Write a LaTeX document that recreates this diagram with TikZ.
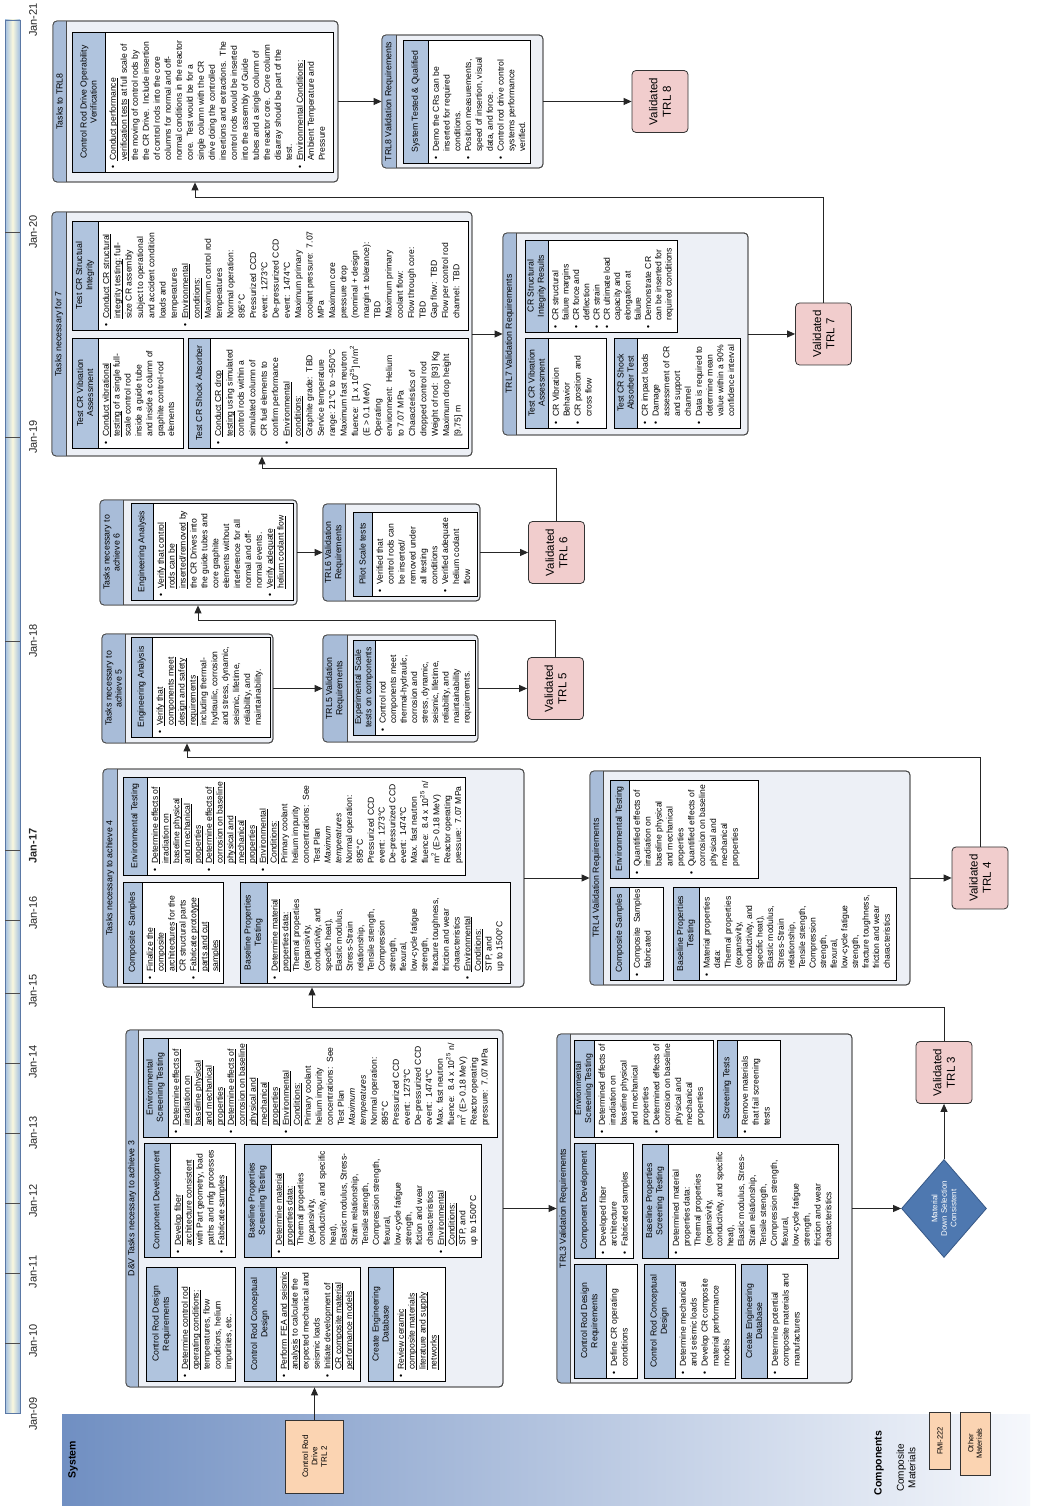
\documentclass[tikz,border=0pt]{standalone}
\usepackage{fontspec}
\setmainfont{Liberation Sans}
\usetikzlibrary{arrows.meta,shapes.geometric}

\definecolor{headblue}{RGB}{176,196,222}
\definecolor{stripblue}{RGB}{168,188,216}
\definecolor{contfill}{RGB}{237,240,246}
\definecolor{contline}{RGB}{72,72,72}
\definecolor{valfill}{RGB}{241,205,205}
\definecolor{diafill}{RGB}{78,120,176}
\definecolor{dialine}{RGB}{55,88,135}
\definecolor{peach}{RGB}{251,212,178}
\definecolor{bandL}{RGB}{112,143,194}
\definecolor{bandR}{RGB}{246,248,252}
\definecolor{tlblue}{RGB}{160,190,225}
\definecolor{tlyellow}{RGB}{250,248,222}
\definecolor{tlline}{RGB}{90,120,165}

% bullet lists: one row per printed line, bullet in the first column
\newcommand\bul{\textbullet}
\newcommand\und[1]{\leavevmode\setbox0\hbox{#1}\rlap{\rule[-1.6pt]{\wd0}{0.45pt}}\box0\relax}
\newcommand\bsk[1]{\fontsize{8.6}{#1}\selectfont}
\newcommand\btab[1]{\begin{tabular}{@{}l@{\hspace{4.5pt}}l@{}}#1\end{tabular}}

\tikzset{
  cbox/.style={draw=contline, fill=contfill, rounded corners=4pt, inner sep=0pt, line width=0.8pt},
  cline/.style={draw=contline, line width=0.8pt},
  stext/.style={font=\fontsize{8.8}{10.2}\selectfont, align=center, inner sep=0pt},
  pbox/.style={draw=black, fill=white, inner sep=0pt, line width=0.7pt},
  phead/.style={draw=black, fill=headblue, inner sep=0pt, align=center, line width=0.7pt, font=\fontsize{8.7}{10.2}\selectfont},
  pbody/.style={anchor=north west, inner sep=0pt, font=\fontsize{8.6}{10.9}\selectfont},
  valbox/.style={draw=black!80, fill=valfill, rounded corners=4pt, inner sep=0pt, align=center,
    line width=0.8pt, minimum width=62, minimum height=56, font=\fontsize{11.5}{13.3}\selectfont},
  peachbox/.style={draw=black!80, fill=peach, inner sep=0pt, align=center, line width=0.7pt,
    font=\fontsize{8}{9.4}\selectfont},
  conn/.style={draw=black!85, line width=0.9pt, -{Triangle[length=8pt,width=7pt]}},
  tlab/.style={font=\fontsize{11}{13}\selectfont, text=black!85, inner sep=0pt},
}

% container: name, left, right, top, bottom, strip bottom, title
\newcommand\mkcont[7]{%
  \node[cbox, minimum width={(#3)-(#2)}, minimum height={(#5)-(#4)}] (#1) at ({((#2)+(#3))/2},{((#4)+(#5))/2}) {};
  \begin{scope}
    \clip[rounded corners=4pt] (#2,#4) rectangle (#3,#5);
    \fill[stripblue] (#2,#4) rectangle (#3,#6);
  \end{scope}
  \draw[cline] (#2,#6) -- (#3,#6);
  \draw[cline, rounded corners=4pt] (#2,#4) rectangle (#3,#5);
  \node[stext] (#1t) at ({((#2)+(#3))/2},{((#4)+(#6))/2}) {#7};
}
% panel: name, left, right, top, bottom, header bottom, header, body
\newcommand\mkpanel[8]{%
  \node[pbox, minimum width={(#3)-(#2)}, minimum height={(#5)-(#4)}] (#1) at ({((#2)+(#3))/2},{((#4)+(#5))/2}) {};
  \node[phead, minimum width={(#3)-(#2)}, minimum height={(#6)-(#4)}] (#1h) at ({((#2)+(#3))/2},{((#4)+(#6))/2}) {#7};
  \node[pbody] (#1b) at ({(#2)+3.5},{(#6)+3}) {#8};
}

\newcommand\envtext{%
 \bul & \und{Determine effects of}\\
 & \und{irradiation on}\\
 & \und{baseline physical}\\
 & \und{and mechanical}\\
 & \und{properties}\\
 \bul & \und{Determine effects of}\\
 & \und{corrosion on baseline}\\
 & \und{physical and}\\
 & \und{mechanical}\\
 & \und{properties}\\
 \bul & \und{Environmental}\\
 & \und{Conditions:}\\
 & Primary coolant\\
 & helium impurity\\
 & concentrations:\ \ See\\
 & Test Plan\\
 & \textit{Maximum}\\
 & \textit{temperatures}\\
 & Normal operation:\\
 & 895°C\\
 & Pressurized CCD\\
 & event:\ \ 1273°C\\
 & De-pressurized CCD\\
 & event:\ \ 1474°C\\
 & Max. fast neutron\\
 & fluence:\ \ 8.4 x 10\textsuperscript{25} n/\\
 & m\textsuperscript{2} (E> 0.18 MeV)\\
 & Reactor operating\\
 & pressure:\ \ 7.07 MPa}

\begin{document}
\begin{tikzpicture}[x=1pt,y=1pt]
\useasboundingbox (0,0) rectangle (1054,1506);
\fill[white] (0,0) rectangle (1054,1506);

% ---------- background band and time axis (page frame, y downwards)
\begin{scope}[yshift=1506pt, y=-1pt]
  \shade[left color=bandL, right color=bandR] (62,1415) rectangle (1030,1506);
  \shade[left color=tlblue, right color=tlblue, middle color=tlyellow] (5,20) rectangle (20,1413);
  \draw[tlline, line width=0.8pt] (5,20) rectangle (20,1413);
  \foreach \t in {1343,1273,1203,1133,1063,993,920,850,641,437,232}
    \draw[black!70, line width=0.8pt] (5,\t) -- (20,\t);
\end{scope}

% ---------- everything else is laid out sideways and turned upright
\begin{scope}[rotate=90, y=-1pt, transform shape]

% time axis labels
\foreach \n/\p in {09/92,10/165,11/234,12/305,13/373,14/444,15/515,16/593,18/865,19/1069,20/1274,21/1486}
  \node[tlab] (jan\n) at (\p,33) {Jan-\n};
\node[tlab, font=\bfseries\fontsize{11}{13}\selectfont] (jan17) at (660,33) {Jan-17};

% legend band
\node[font=\bfseries\fontsize{10.5}{12}\selectfont, inner sep=0pt] (sys) at (46,73) {System};
\node[peachbox, minimum width=73, minimum height=58] (CRD) at (49.5,314.5) {Control Rod\\Drive\\TRL 2};
\node[font=\bfseries\fontsize{10.5}{12}\selectfont, inner sep=0pt] (comps) at (43,879) {Components};
\node[align=center, font=\fontsize{10}{11.5}\selectfont, inner sep=0pt] (compmat) at (38,906) {Composite\\Materials};
\node[peachbox, minimum width=57, minimum height=21, font=\fontsize{7.5}{9}\selectfont] (fmi) at (65,940) {FMI-222};
\node[peachbox, minimum width=63, minimum height=30, font=\fontsize{7.5}{8.6}\selectfont] (oth) at (62.5,975) {Other\\Materials};

% ================= TRL 3
\mkcont{T3}{119}{476}{126}{503}{138}{D\&V Tasks necessary to achieve 3}
\mkpanel{p3r}{125}{239}{146}{235}{177}{Control Rod Design\\Requirements}{\btab{%
 \bul & \und{Determine control rod}\\ & \und{operating conditions:}\\ & temperatures, flow\\ & conditions, helium\\ & impurities, etc.}}
\mkpanel{p3d}{125}{239}{244}{360}{276}{Control Rod Conceptual\\Design}{\btab{%
 \bul & \und{Perform FEA and seismic}\\ & \und{analysis} to calculate the\\ & expected mechanical and\\ & seismic loads\\
 \bul & \und{Initiate development of}\\ & \und{CR composite material}\\ & \und{performance models}}}
\mkpanel{p3g}{125}{239}{368}{445}{393}{Create Engineering\\Database}{\btab{%
 \bul & \und{Review ceramic}\\ & \und{composite materials}\\ & \und{literature and supply}\\ & \und{networks}}}
\mkpanel{p3c}{249}{363}{144}{235}{170}{Component Development}{\btab{%
 \bul & \und{Develop fiber}\\ & \und{architecture consistent}\\ & with Part geometry, load\\ & paths and mfg processes\\
 \bul & \und{Fabricate samples}}}
\mkpanel{p3b}{249}{362}{244}{481}{271}{Baseline Properties\\Screening Testing}{\bsk{10.8}\btab{%
 \bul & \und{Determine material}\\ & \und{properties data:}\\ & Thermal properties\\ & (expansivity,\\
 & conductivity, and specific\\ & heat),\\ & Elastic modulus, Stress-\\ & Strain relationship,\\
 & Tensile strength,\\ & Compression strength,\\ & flexural,\\ & low-cycle fatigue\\ & strength,\\
 & fiction and wear\\ & characteristics\\ \bul & \und{Environmental}\\ & \und{Conditions:}\\ & STP, and\\ & up to 1500°C}}
\mkpanel{p3e}{369}{468}{143}{497}{168}{Environmental\\Screening Testing}{\bsk{11}\btab{\envtext}}

\mkcont{V3}{123}{472}{557}{852}{570}{TRL3 Validation Requirements}
\mkpanel{q3r}{128}{242}{574}{637}{606}{Control Rod Design\\Requirements}{\btab{%
 \bul & Define CR operating\\ & conditions}}
\mkpanel{q3d}{128}{242}{644}{735}{675}{Control Rod Conceptual\\Design}{\btab{%
 \bul & Determine mechanical\\ & and seismic loads\\ \bul & Develop CR composite\\ & material performance\\ & models}}
\mkpanel{q3g}{128}{242}{741}{807}{767}{Create Engineering\\Database}{\btab{%
 \bul & Determine potential\\ & composite materials and\\ & manufacturers}}
\mkpanel{q3c}{248}{363}{574}{633}{595}{Component Development}{\btab{%
 \bul & Developed fiber\\ & architecture\\ \bul & Fabricated samples}}
\mkpanel{q3b}{248}{362}{642}{838}{668}{Baseline Properties\\Screening Testing}{\btab{%
 \bul & Determined material\\ & properties data:\\ & Thermal properties\\ & (expansivity,\\
 & conductivity, and specific\\ & heat),\\ & Elastic modulus, Stress-\\ & Strain relationship,\\
 & Tensile strength,\\ & Compression strength,\\ & flexural,\\ & low-cycle fatigue\\ & strength,\\
 & friction and wear\\ & characteristics}}
\mkpanel{q3e}{369}{466}{574}{713}{594}{\fontsize{8.3}{9.2}\selectfont Environmental\\Screening Testing}{\btab{%
 \bul & Determined effects of\\ & irradiation on\\ & baseline physical\\ & and mechanical\\ & properties\\
 \bul & Determined effects of\\ & corrosion on baseline\\ & physical and\\ & mechanical\\ & properties}}
\mkpanel{q3s}{369}{466}{717}{780}{737}{Screening Tests}{\btab{%
 \bul & Remove materials\\ & that fail screening\\ & tests}}

\node[diamond, draw=dialine, fill=diafill, minimum width=98, minimum height=85, inner sep=0pt, aspect=1.15,
  text=white, align=center, font=\fontsize{8}{9.5}\selectfont, line width=0.8pt] (D3) at (297.5,944)
  {Material\\Down Selection\\Consistent};
\node[valbox] (VT3) at (433.5,944) {Validated\\TRL 3};

% ================= TRL 4
\mkcont{T4}{519}{737}{103}{524}{117}{Tasks necessary to achieve 4}
\mkpanel{p4c}{523}{624}{123}{223}{142}{Composite\ \ Samples}{\btab{%
 \bul & \und{Finalize the}\\ & \und{composite}\\ & \und{architectures} for the\\ & CR structural parts\\
 \bul & \und{Fabricate prototype}\\ & \und{parts and cut}\\ & \und{samples}}}
\mkpanel{p4b}{523}{624}{240}{510}{267}{Baseline Properties\\Testing}{\bsk{10.7}\btab{%
 \bul & \und{Determine material}\\ & \und{properties data:}\\ & Thermal properties\\ & (expansivity,\\
 & conductivity, and\\ & specific heat),\\ & Elastic modulus,\\ & Stress-Strain\\ & relationship,\\
 & Tensile strength,\\ & Compression\\ & strength,\\ & flexural,\\ & low-cycle fatigue\\ & strength,\\
 & fracture toughness,\\ & friction and wear\\ & characteristics\\ \bul & \und{Environmental}\\
 & \und{Conditions:}\\ & STP, and\\ & up to 1500°C}}
\mkpanel{p4e}{631}{729}{123}{465}{147}{Environmental Testing}{\bsk{10.8}\btab{\envtext}}

\mkcont{V4}{521}{735}{590}{910}{603}{TRL4 Validation Requirements}
\mkpanel{q4c}{526}{619}{610}{663}{629}{Composite Samples}{\btab{%
 \bul & Composite\ \ Samples\\ & fabricated}}
\mkpanel{q4b}{526}{619}{673}{896}{699}{Baseline Properties\\Testing}{\bsk{10.6}\btab{%
 \bul & Material properties\\ & data:\\ & Thermal properties\\ & (expansivity,\\ & conductivity, and\\
 & specific heat),\\ & Elastic modulus,\\ & Stress-Strain\\ & relationship,\\ & Tensile strength,\\
 & Compression\\ & strength,\\ & flexural,\\ & low-cycle fatigue\\ & strength,\\ & fracture toughness,\\
 & friction and wear\\ & characteristics}}
\mkpanel{q4e}{628}{726}{610}{758}{629}{Environmental Testing}{\btab{%
 \bul & Quantified effects of\\ & irradiation on\\ & baseline physical\\ & and mechanical\\ & properties\\
 \bul & Quantified effects of\\ & corrosion on baseline\\ & physical and\\ & mechanical\\ & properties}}
\node[valbox] (VT4) at (628,980) {Validated\\TRL 4};

% ================= TRL 5
\mkcont{T5}{763}{872}{102}{273}{125}{Tasks necessary to\\achieve 5}
\mkpanel{p5}{769}{869}{131}{270}{152}{Engineering Analysis}{\btab{%
 \bul & \und{Verify that}\\ & \und{components meet}\\ & \und{design and safety}\\ & \und{requirements}\\
 & including thermal-\\ & hydraulic, corrosion\\ & and stress, dynamic,\\ & seismic, lifetime,\\
 & reliability, and\\ & maintainability.}}
\mkcont{V5}{764}{871}{323}{478}{347}{TRL5 Validation\\Requirements}
\mkpanel{q5}{771}{866}{353}{475}{375}{Experimental Scale\\tests on components}{\bsk{10.5}\btab{%
 \bul & Control rod\\ & components meet\\ & thermal-hydraulic,\\ & corrosion and\\ & stress, dynamic,\\
 & seismic, lifetime,\\ & reliability, and\\ & maintainability\\ & requirements.}}
\node[valbox] (VT5) at (817.5,555.5) {Validated\\TRL 5};

% ================= TRL 6
\mkcont{T6}{901}{1006}{100}{297}{123}{Tasks necessary to\\achieve 6}
\mkpanel{p6}{906}{1003}{131}{293}{153}{Engineering Analysis}{\btab{%
 \bul & \und{Verify that control}\\ & \und{rods can be}\\ & \und{inserted/removed} by\\ & the CR Drives into\\
 & the guide tubes and\\ & core graphite\\ & elements without\\ & interference for all\\
 & normal and off-\\ & normal events.\\ \bul & \und{Verify adequate}\\ & \und{helium coolant flow}}}
\mkcont{V6}{905}{1002}{323}{480}{345}{TRL6 Validation\\Requirements}
\mkpanel{q6}{910}{994}{353}{477}{372}{Pilot Scale tests}{\btab{%
 \bul & Verified that\\ & control rods can\\ & be inserted/\\ & removed under\\ & all testing\\ & conditions\\
 \bul & Verified adequate\\ & helium coolant\\ & flow}}
\node[valbox] (VT6) at (953.5,556.5) {Validated\\TRL 6};

% ================= TRL 7
\mkcont{T7}{1050}{1294}{52}{472}{66}{Tasks necessary for 7}
\mkpanel{p7s}{1176}{1285}{72}{468}{98}{Test CR Structual\\Integrity}{\bsk{11.3}\btab{%
 \bul & \und{Conduct CR structural}\\ & \und{integrity testing:} full-\\ & size CR assembly\\
 & subject to operational\\ & and accident condition\\ & loads and\\ & temperatures\\
 \bul & \und{Environmental}\\ & \und{conditions:}\\ & Maximum control rod\\ & temperatures\\
 & Normal operation:\\ & 895°C\\ & Pressurized CCD\\ & event:\ \ 1273°C\\ & De-pressurized CCD\\
 & event:\ \ 1474°C\\ & Maximum primary\\ & coolant pressure:\ \ 7.07\\ & MPa\\ & Maximum core\\
 & pressure drop\\ & (nominal + design\\ & margin ± tolerance):\\ & TBD\\ & Maximum primary\\
 & coolant flow:\\ & Flow through core:\\ & TBD\\ & Gap flow:\ \ TBD\\ & Flow per control rod\\
 & channel:\ \ TBD}}
\mkpanel{p7v}{1058}{1168}{72}{183}{98}{Test CR Vibration\\Assessment}{\btab{%
 \bul & \und{Conduct vibrational}\\ & \und{testing} of a single full-\\ & scale control rod\\
 & inside a guide tube\\ & and inside a column of\\ & graphite control-rod\\ & elements}}
\mkpanel{p7k}{1058}{1168}{188}{468}{210}{Test CR Shock Absorber}{\bsk{11.4}\btab{%
 \bul & \und{Conduct CR drop}\\ & \und{testing} using simulated\\ & control rods within a\\
 & simulated column of\\ & CR fuel elements to\\ & confirm performance\\
 \bul & \und{Environmental}\\ & \und{conditions:}\\ & Graphite grade:\ \ TBD\\ & Service temperature\\
 & range: 21°C to \textasciitilde950°C\\ & Maximum fast neutron\\
 & fluence:\ \ [1 x 10\textsuperscript{25}] n/m\textsuperscript{2}\\ & (E > 0.1 MeV)\\ & Operating\\
 & environment:\ \ Helium\\ & to 7.07 MPa\\ & Characteristics of\\ & dropped control rod\\
 & Weight of rod:\ \ [93] Kg\\ & Maximum drop height\\ & [9.75] m}}

\mkcont{V7}{1071}{1273}{503}{748}{516}{TRL7 Validation Requirements}
\mkpanel{q7s}{1174}{1266}{525}{677}{548}{CR Structural\\Integrity Results}{\bsk{10.3}\btab{%
 \bul & CR structural\\ & failure margins\\ \bul & CR force and\\ & deflection\\ \bul & CR strain\\
 \bul & CR ultimate load\\ & capacity and\\ & elongation at\\ & failure\\ \bul & Demonstrate CR\\
 & can be inserted for\\ & required conditions}}
\mkpanel{q7v}{1078}{1168}{525}{606}{548}{Test CR Vibration\\Assessment}{\btab{%
 \bul & CR Vibration\\ & Behavior\\ \bul & CR position and\\ & cross flow}}
\mkpanel{q7k}{1078}{1168}{614}{740}{637}{Test CR Shock\\Absorber Test}{\bsk{10.8}\btab{%
 \bul & CR impact loads\\ \bul & Damage\\ & assessment of CR\\ & and support\\ & channel\\
 \bul & Data is required to\\ & determine mean\\ & value within a 90\%\\ & confidence interval}}
\node[valbox] (VT7) at (1172,823.5) {Validated\\TRL 7};

% ================= TRL 8
\mkcont{T8}{1324}{1485}{53}{338}{66}{Tasks to TRL8}
\mkpanel{p8}{1334}{1474}{72}{333}{105}{Control Rod Drive Operability\\Verification}{\bsk{11}\btab{%
 \bul & \und{Conduct performance}\\ & \und{verification tests} at full scale of\\
 & the moving of control rods by\\ & the CR Drive.\ \ Include insertion\\
 & of control rods into the core\\ & columns for normal and off-\\
 & normal conditions in the reactor\\ & core.\ \ Test would be for a\\
 & single column with the CR\\ & drive doing the controlled\\
 & insertions and extractions.\ \ The\\ & control rods would be inserted\\
 & into the assembly of Guide\\ & tubes and a single column of\\
 & the reactor core.\ \ Core column\\ & disarray should be part of the\\ & test.\\
 \bul & \und{Environmental Conditions:}\\ & Ambient Temperature and\\ & Pressure}}
\mkcont{V8}{1338}{1471}{382}{543}{396}{TRL8 Validation Requirements}
\mkpanel{q8}{1343}{1466}{403}{530}{428}{System Tested \& Qualified}{\bsk{10.8}\btab{%
 \bul & Demo the CRs can be\\ & inserted for required\\ & conditions.\\
 \bul & Position measurements,\\ & speed of insertion, visual\\ & data, and force.\\
 \bul & Control rod drive control\\ & systems performance\\ & verified.}}
\node[valbox] (VT8) at (1404.5,660) {Validated\\TRL 8};

% ================= connectors
\draw[conn] (CRD) -- (T3);
\draw[conn] (T3) -- (V3);
\draw[conn] (V3) -- (D3);
\draw[conn] (D3) -- (VT3);
\coordinate (j3) at (499,312);
\draw[conn] (VT3.east) -- (VT3.east -| j3) -- (j3) -- (j3 -| T4.west);
\draw[conn] (T4) -- (V4);
\draw[conn] (V4) -- (VT4);
\coordinate (j4) at (749,187);
\draw[conn] (VT4.east) -- (VT4.east -| j4) -- (j4) -- (j4 -| T5.west);
\draw[conn] (T5) -- (V5);
\draw[conn] (V5) -- (VT5);
\coordinate (j5) at (886,198);
\draw[conn] (VT5.east) -- (VT5.east -| j5) -- (j5) -- (j5 -| T6.west);
\draw[conn] (T6) -- (V6);
\draw[conn] (V6) -- (VT6);
\coordinate (j6) at (1038,262);
\draw[conn] (VT6.east) -- (VT6.east -| j6) -- (j6) -- (j6 -| T7.west);
\draw[conn] (T7) -- (V7);
\draw[conn] (V7) -- (VT7);
\coordinate (j7) at (1309,195);
\draw[conn] (VT7.east) -- (VT7.east -| j7) -- (j7) -- (j7 -| T8.west);
\draw[conn] (T8) -- (V8);
\draw[conn] (V8) -- (VT8);

\end{scope}
\end{tikzpicture}
\end{document}
